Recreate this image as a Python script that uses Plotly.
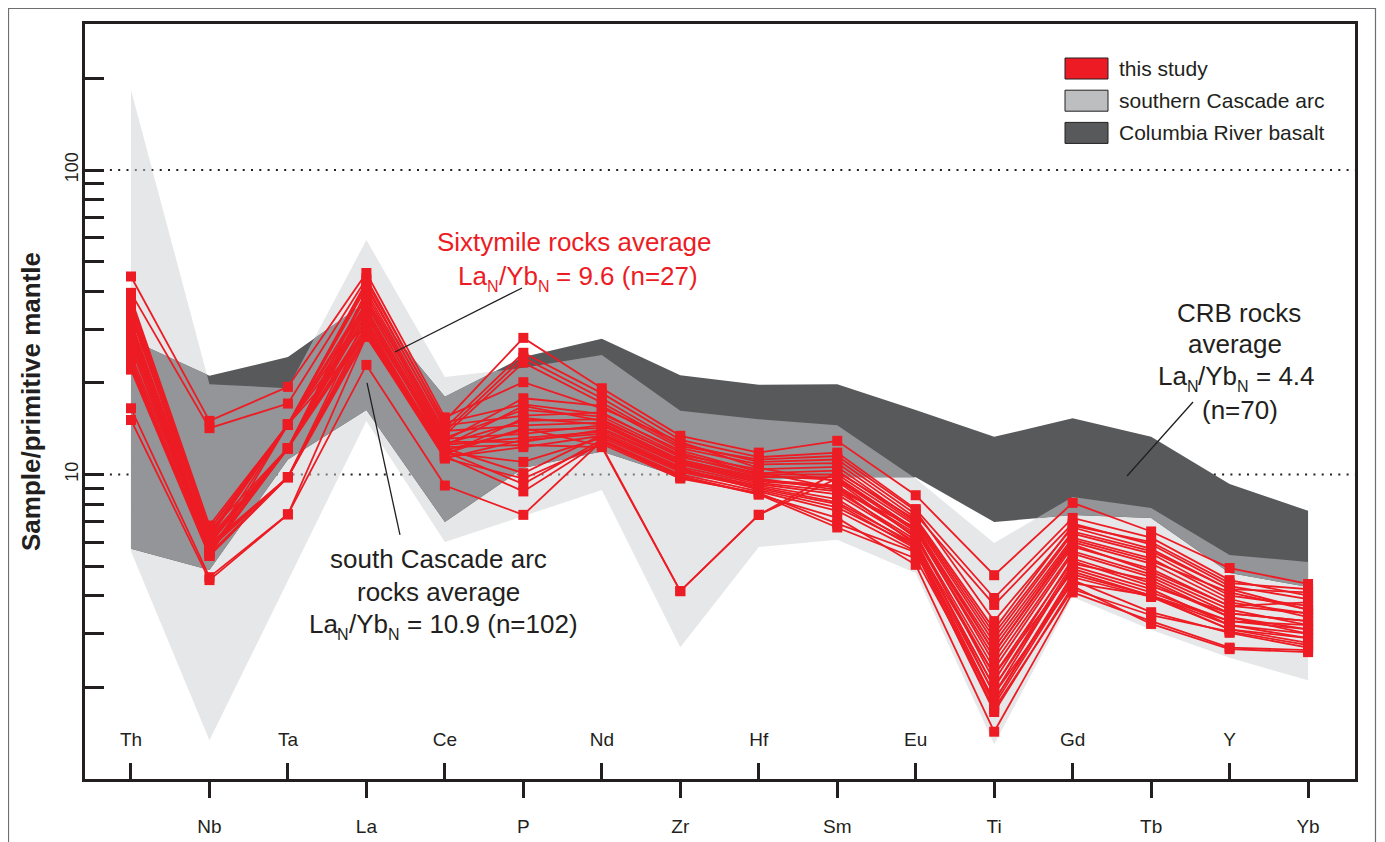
import numpy as np
import plotly.graph_objects as go

# ---------------- data ----------------
elements = ["Th", "Nb", "Ta", "La", "Ce", "P", "Nd", "Zr", "Hf", "Sm", "Eu", "Ti", "Gd", "Tb", "Y", "Yb"]

# southern Cascade arc envelope (sample / primitive mantle)
cascade_hi = [183, 19.8, 19.2, 58.9, 20.9, 22.4, 24.7, 16.2, 15.2, 14.5, 9.7, 5.96, 8.44, 7.76, 5.44, 5.16]
cascade_lo = [5.6, 1.34, 4.47, 15.0, 6.0, 7.3, 8.9, 2.71, 5.78, 6.1, 4.75, 1.3, 3.96, 3.09, 2.50, 2.11]

# Columbia River basalt envelope
crb_hi = [27.7, 21.1, 24.3, 36.9, 18.0, 24.3, 27.9, 21.2, 19.7, 19.8, 16.3, 13.3, 15.3, 13.3, 9.3, 7.6]
crb_lo = [5.7, 4.86, 11.2, 16.3, 6.98, 10.5, 11.9, 9.8, 9.6, 9.8, 9.8, 6.98, 7.36, 7.2, 4.75, 4.27]

# this study: 27 Sixtymile samples, one list per element
th = [44.7, 39.5, 38.0, 37.0, 36.0, 35.0, 34.0, 33.0, 32.0, 31.0, 30.5, 30.0, 29.5, 29.0, 28.5, 28.0, 27.5, 27.0, 24.7, 24.0, 23.5, 23.0, 22.5, 22.1, 26.0, 16.5, 15.1]
nb = [15.0, 14.2, 6.8, 6.6, 6.5, 6.3, 6.2, 6.6, 6.0, 6.4, 5.9, 6.1, 5.8, 6.0, 5.7, 5.6, 6.2, 5.5, 5.9, 5.7, 5.4, 5.6, 5.5, 5.4, 5.8, 4.6, 4.5]
ta = [19.4, 17.1, 14.6, 14.6, 12.2, 14.6, 12.2, 14.6, 12.2, 14.6, 12.2, 12.2, 14.6, 12.2, 9.8, 12.2, 14.6, 12.2, 9.8, 12.2, 9.8, 12.2, 9.8, 14.6, 9.8, 7.4, 7.4]
la = [45.9, 44.0, 43.0, 42.0, 40.0, 41.0, 39.0, 38.0, 37.0, 36.5, 36.0, 35.0, 34.5, 34.0, 33.0, 33.5, 32.0, 31.5, 31.0, 30.5, 30.0, 29.5, 29.0, 28.5, 28.3, 28.5, 22.9]
ce = [15.4, 14.8, 15.0, 14.2, 13.8, 14.5, 13.5, 13.2, 13.9, 12.9, 13.1, 12.6, 12.8, 12.4, 12.2, 12.0, 12.5, 11.8, 11.9, 11.6, 11.5, 11.4, 11.3, 12.3, 11.7, 11.3, 9.2]
p = [20.1, 17.0, 28.1, 25.1, 24.2, 15.6, 23.3, 16.3, 14.5, 17.8, 13.6, 15.0, 12.8, 16.8, 10.1, 14.0, 13.2, 11.0, 9.3, 15.3, 8.8, 12.3, 9.7, 12.5, 14.2, 13.0, 7.37]
nd = [16.5, 15.8, 19.2, 18.5, 17.8, 16.0, 17.2, 15.5, 14.8, 16.8, 14.5, 15.2, 14.0, 15.0, 13.5, 14.2, 13.8, 13.2, 13.0, 14.6, 12.8, 13.4, 12.6, 12.3, 12.4, 13.6, 12.9]
zr = [12.8, 12.0, 13.4, 13.0, 12.6, 11.8, 12.4, 11.6, 11.2, 12.2, 11.0, 11.4, 10.8, 11.5, 10.4, 10.9, 10.6, 10.2, 10.0, 11.1, 9.8, 10.3, 9.7, 4.14, 4.14, 10.5, 9.9]
hf = [10.5, 10.2, 11.8, 11.4, 11.0, 10.0, 11.2, 10.4, 9.8, 10.8, 9.6, 10.1, 9.4, 9.9, 9.2, 9.5, 9.3, 9.0, 8.8, 9.7, 8.6, 9.1, 8.7, 7.37, 7.37, 8.9, 8.6]
sm = [9.5, 9.0, 12.9, 11.8, 11.2, 10.0, 11.5, 10.6, 9.8, 10.9, 9.2, 10.3, 8.8, 9.6, 8.3, 9.1, 8.6, 8.0, 7.6, 8.9, 7.2, 8.1, 6.9, 10.2, 9.7, 7.8, 6.7]
eu = [6.2, 5.9, 8.55, 7.7, 7.4, 6.8, 7.6, 7.0, 6.6, 7.2, 6.4, 6.9, 6.1, 6.5, 5.8, 6.3, 6.0, 5.7, 5.6, 6.7, 5.05, 5.9, 5.56, 7.1, 6.6, 5.8, 5.3]
ti = [2.2, 2.0, 4.67, 3.93, 3.73, 2.6, 3.3, 2.9, 2.4, 3.1, 2.1, 2.8, 1.9, 2.5, 1.8, 2.3, 2.0, 1.75, 1.66, 2.7, 1.43, 2.2, 1.7, 3.0, 2.6, 1.9, 1.8]
gd = [5.2, 4.9, 8.07, 7.2, 6.9, 6.0, 6.7, 6.4, 5.6, 6.8, 5.3, 6.2, 5.0, 5.8, 4.6, 5.5, 5.1, 4.5, 4.3, 6.1, 4.1, 4.8, 4.2, 6.5, 5.9, 4.4, 4.7]
tb = [4.3, 4.1, 6.5, 6.2, 5.9, 5.1, 5.7, 5.5, 4.7, 6.0, 4.4, 5.3, 4.2, 4.9, 3.96, 4.6, 4.5, 3.53, 3.23, 5.2, 3.3, 4.0, 3.45, 5.6, 4.8, 4.0, 4.0]
y_ = [3.5, 3.3, 4.93, 4.5, 4.3, 3.8, 4.2, 4.0, 3.6, 4.4, 3.4, 3.9, 3.2, 3.7, 3.1, 3.5, 3.4, 3.02, 2.67, 4.1, 2.7, 3.2, 3.05, 4.2, 3.7, 3.1, 3.3]
yb = [3.3, 3.1, 4.37, 4.0, 3.9, 3.5, 3.6, 3.7, 3.2, 4.2, 3.0, 3.4, 2.9, 3.8, 2.8, 3.3, 3.1, 2.7, 2.61, 3.6, 2.65, 3.0, 2.75, 4.1, 3.5, 2.9, 3.2]

element_columns = [th, nb, ta, la, ce, p, nd, zr, hf, sm, eu, ti, gd, tb, y_, yb]

y_major_ticks = [1, 10, 100]
y_major_text = ["1", "10", "100"]
y_minor_ticks = [2, 3, 4, 5, 6, 7, 8, 9, 20, 30, 40, 50, 60, 70, 80, 90, 200]

# ---------------- style ----------------
RED = "#ED1C24"
INK = "#231F20"
LIGHT_FILL = "rgba(205,207,209,0.5)"   # shows as #E6E7E8 over white
DARK = "#58595B"
MEDIUM = "#939598"
FONT = "Liberation Sans, Arial, sans-serif"
BIG, SUB = 26, 16

OFF = 8                       # page body margin in the browser
W, H = 1385 - 2 * OFF, 842 - OFF
ML, MT = 85 - OFF, 24 - OFF
MR = W - (1355 - OFF)
MB = H - (779 - OFF)
PW, PH = W - ML - MR, H - MT - MB

x_idx = np.arange(len(elements), dtype=float)
x_range = [-0.586, 15.598]
y_range = [0, 2.4795]


def px2paper_x(sx):          # screen pixel -> paper fraction
    return (sx - OFF - ML) / PW


def px2paper_y(sy):
    return (H - MB - (sy - OFF)) / PH


# ---------------- overlap of the two fields ----------------
A_hi, A_lo = np.log10(cascade_hi), np.log10(cascade_lo)
B_hi, B_lo = np.log10(crb_hi), np.log10(crb_lo)
bps = set(x_idx.tolist())
for f, g in [(A_hi, B_hi), (A_lo, B_lo), (A_hi, B_lo), (B_hi, A_lo)]:
    d = f - g
    for i in range(len(d) - 1):
        if d[i] * d[i + 1] < 0:
            t = d[i] / (d[i] - d[i + 1])
            bps.add(i + t)
bx = np.array(sorted(bps))
top = np.minimum(np.interp(bx, x_idx, A_hi), np.interp(bx, x_idx, B_hi))
bot = np.maximum(np.interp(bx, x_idx, A_lo), np.interp(bx, x_idx, B_lo))
top = np.maximum(top, bot)

fig = go.Figure()

# southern Cascade arc field
fig.add_trace(go.Scatter(
    x=np.concatenate([x_idx, x_idx[::-1]]),
    y=np.concatenate([cascade_hi, cascade_lo[::-1]]),
    fill="toself", fillcolor=LIGHT_FILL, mode="lines", line=dict(width=0),
    showlegend=False, hoverinfo="skip", name="southern Cascade arc"))
# Columbia River basalt field
fig.add_trace(go.Scatter(
    x=np.concatenate([x_idx, x_idx[::-1]]),
    y=np.concatenate([crb_hi, crb_lo[::-1]]),
    fill="toself", fillcolor=DARK, mode="lines", line=dict(width=0),
    showlegend=False, hoverinfo="skip", name="Columbia River basalt"))
# overlap of both fields
fig.add_trace(go.Scatter(
    x=np.concatenate([bx, bx[::-1]]),
    y=np.concatenate([10 ** top, (10 ** bot)[::-1]]),
    fill="toself", fillcolor=MEDIUM, mode="lines", line=dict(width=0),
    showlegend=False, hoverinfo="skip", name="overlap"))

# this study
n_samples = len(th)
for s in range(n_samples):
    fig.add_trace(go.Scatter(
        x=x_idx, y=[col[s] for col in element_columns],
        xaxis="x2", yaxis="y",
        mode="lines+markers",
        line=dict(color=RED, width=1.8),
        marker=dict(symbol="square", size=10, color=RED, line=dict(width=0)),
        showlegend=False, name="this study"))

# dotted reference lines
for v in (10, 100):
    fig.add_shape(type="line", xref="paper", x0=0, x1=1, yref="y", y0=v, y1=v,
                  line=dict(color=INK, width=2, dash="2px,6.3px"), layer="below")

# outer frame
fig.add_shape(type="rect", xref="paper", yref="paper",
              x0=px2paper_x(8.5), x1=px2paper_x(1375.5), y0=px2paper_y(848), y1=px2paper_y(8.5),
              line=dict(color="#6D6E71", width=1.2), layer="above")

# legend (manual)
legend_items = [("this study", RED), ("southern Cascade arc", "#BCBEC0"), ("Columbia River basalt", DARK)]
for k, (label, col) in enumerate(legend_items):
    top_px = 58 + k * 32.2
    fig.add_shape(type="rect", xref="paper", yref="paper",
                  x0=px2paper_x(1065), x1=px2paper_x(1108),
                  y0=px2paper_y(top_px + 21), y1=px2paper_y(top_px),
                  fillcolor=col, line=dict(color=INK, width=1), layer="above")
    fig.add_annotation(xref="paper", yref="paper", x=px2paper_x(1117), y=px2paper_y(top_px + 10.5),
                       text=label, showarrow=False, xanchor="left", yanchor="middle",
                       font=dict(family=FONT, size=21, color=INK))

# ---------------- text labels ----------------
ARIAL_W = {" ": 278, "(": 333, ")": 333, ".": 278, "/": 278, "=": 584,
           "L": 556, "N": 722, "Y": 667, "a": 556, "b": 556, "n": 556}


def text_w(s, size):
    return sum(ARIAL_W.get(c, 556) for c in s) * size / 1000.0


def plain_line(text, cx, cy, color):
    fig.add_annotation(xref="paper", yref="paper", x=px2paper_x(cx), y=px2paper_y(cy),
                       text=text, showarrow=False, xanchor="center", yanchor="middle",
                       borderpad=0, font=dict(family=FONT, size=BIG, color=color))


def ratio_line(value_text, cx, cy, color):
    # "La_N/Yb_N = value" with real subscripts built from separate text pieces
    parts = [("La", False), ("N", True), ("/Yb", False), ("N", True), (" " + value_text, False)]
    total = sum(text_w(t, SUB if sub else BIG) for t, sub in parts)
    x = cx - total / 2.0
    for t, sub in parts:
        size = SUB if sub else BIG
        stripped = t.lstrip(" ")
        lead = text_w(t[:len(t) - len(stripped)], size)
        fig.add_annotation(xref="paper", yref="paper", x=px2paper_x(x + lead),
                           y=px2paper_y(cy + (10 if sub else 0)),
                           text=stripped, showarrow=False, xanchor="left", yanchor="middle",
                           borderpad=0, font=dict(family=FONT, size=size, color=color))
        x += text_w(t, size)


plain_line("Sixtymile rocks average", 574, 242, RED)
ratio_line("= 9.6 (n=27)", 577, 276, RED)

plain_line("south Cascade arc", 438, 559, INK)
plain_line("rocks average", 438, 592, INK)
ratio_line("= 10.9 (n=102)", 442, 624, INK)

plain_line("CRB rocks", 1239, 313, INK)
plain_line("average", 1235, 344, INK)
ratio_line("= 4.4", 1235, 376, INK)
plain_line("(n=70)", 1239.5, 410, INK)

# leader lines (x in element index, y in data units)
leaders = [((3.364, 25.25), (4.983, 40.98)),
           ((3.008, 19.98), (3.428, 6.33)),
           ((12.693, 9.89), (13.534, 17.3))]
for (x0, y0), (x1, y1) in leaders:
    fig.add_shape(type="line", xref="x", yref="y", x0=x0, y0=y0, x1=x1, y1=y1,
                  line=dict(color=INK, width=1.3), layer="above")

tick_font = dict(family=FONT, size=19, color=INK)
fig.update_layout(
    width=W, height=H, autosize=False,
    margin=dict(l=ML, r=MR, t=MT, b=MB, pad=0, autoexpand=False),
    paper_bgcolor="white", plot_bgcolor="white",
    showlegend=False,
    xaxis=dict(range=x_range, tickmode="array", automargin=False,
               tickvals=x_idx[1::2].tolist(), ticktext=elements[1::2],
               ticks="outside", ticklen=16, tickwidth=2.5, tickcolor=INK,
               showline=True, linewidth=3, linecolor=INK, mirror=True,
               showgrid=False, zeroline=False, tickfont=tick_font, ticklabelstandoff=12),
    xaxis2=dict(range=x_range, overlaying="x", anchor="y", side="bottom", tickmode="array",
                automargin=False,
                tickvals=x_idx[0::2].tolist(), ticktext=elements[0::2],
                ticks="inside", ticklen=16, tickwidth=2.5, tickcolor=INK,
                ticklabelposition="inside", ticklabelstandoff=14, showline=False,
                showgrid=False, zeroline=False, tickfont=tick_font),
    yaxis=dict(type="log", range=y_range, tickmode="array", automargin=False,
               tickvals=y_major_ticks, ticktext=y_major_text,
               ticks="inside", ticklen=19, tickwidth=2.5, tickcolor=INK, tickangle=-90,
               minor=dict(tickmode="array", tickvals=y_minor_ticks, ticks="inside",
                          ticklen=19, tickwidth=2.5, tickcolor=INK, showgrid=False),
               showline=True, linewidth=3, linecolor=INK, mirror=True,
               showgrid=False, zeroline=False, ticklabelstandoff=-3,
               tickfont=dict(family=FONT, size=18, color=INK),
               title=dict(text="<b>Sample/primitive mantle</b>", standoff=14,
                          font=dict(family=FONT, size=26, color=INK))),
)

fig.write_html("out.html")
